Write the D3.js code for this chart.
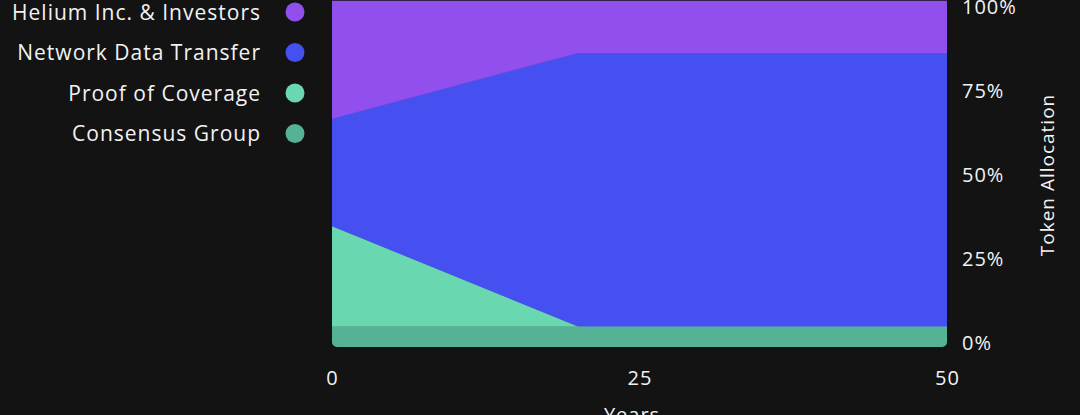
<!DOCTYPE html>
<html><head><meta charset="utf-8">
<script src="https://cdn.jsdelivr.net/npm/d3@7"></script>
<style>
html,body{margin:0;padding:0;background:#131313;}
svg{display:block;}
text{font-family:"Open Sans",sans-serif;fill:#f2f2f2;letter-spacing:1px;}
</style></head><body>
<svg id="c" width="1080" height="415"></svg>
<script>
const years = [0, 20, 50];
const seriesNames = ["Consensus Group", "Proof of Coverage", "Network Data Transfer", "Helium Inc. & Investors"];
const consensusGroup = [6, 6, 6];
const proofOfCoverage = [29, 0, 0];
const networkDataTransfer = [31, 79, 79];
const heliumInvestors = [34, 15, 15];
const colors = ["#55b294", "#69d8b1", "#4650f1", "#9150ee"];
const xTicks = [0, 25, 50];
const yTicks = [0, 25, 50, 75, 100];
const legendOrder = ["Helium Inc. & Investors", "Network Data Transfer", "Proof of Coverage", "Consensus Group"];

const rows = years.map((y, i) => ({
  year: y,
  "Consensus Group": consensusGroup[i],
  "Proof of Coverage": proofOfCoverage[i],
  "Network Data Transfer": networkDataTransfer[i],
  "Helium Inc. & Investors": heliumInvestors[i]
}));

const FONT = "'Open Sans', sans-serif";
const svg = d3.select("#c");
const L = 332, R = 947, T = 1, B = 347;
const x = d3.scaleLinear().domain([0, 50]).range([L, R]);
const y = d3.scaleLinear().domain([0, 100]).range([B, T]);

const defs = svg.append("defs");
defs.append("clipPath").attr("id", "clip").append("rect")
  .attr("x", L).attr("y", -10).attr("width", R - L).attr("height", B + 10)
  .attr("rx", 5).attr("ry", 5);

const stack = d3.stack().keys(seriesNames)(rows);
const area = d3.area().x(d => x(d.data.year)).y0(d => y(d[0])).y1(d => y(d[1]));

const g = svg.append("g").attr("clip-path", "url(#clip)");
g.selectAll("path").data(stack).join("path")
  .attr("d", area)
  .attr("fill", (d, i) => colors[i])
  .attr("stroke", (d, i) => colors[i]).attr("stroke-width", 0.5);

// x axis
const xAxis = d3.axisBottom(x).tickValues(xTicks).tickSize(0).tickPadding(0);
const gx = svg.append("g").attr("transform", "translate(0,370)").call(xAxis);
gx.select(".domain").remove();
gx.selectAll("text").attr("font-size", 20).attr("dy", "0.73em")
  .style("font-family", FONT).style("letter-spacing", "1px").attr("fill", "#f2f2f2");

// y axis (right)
const yLab = d3.scaleLinear().domain([0, 100]).range([342, 6]);
const yAxis = d3.axisRight(yLab).tickValues(yTicks).tickSize(0).tickPadding(0).tickFormat(d => d + "%");
const gy = svg.append("g").attr("transform", "translate(962,0)").call(yAxis);
gy.select(".domain").remove();
gy.selectAll("text").attr("font-size", 20).attr("dy", "0.36em")
  .style("font-family", FONT).style("letter-spacing", "1px").attr("fill", "#f2f2f2");

svg.append("text").attr("transform", "translate(1054,175) rotate(-90)")
  .attr("text-anchor", "middle").attr("font-size", 19).text("Token Allocation");

svg.append("text").attr("x", 632).attr("y", 422)
  .attr("text-anchor", "middle").attr("font-size", 20).text("Years");

// legend
const leg = svg.append("g");
legendOrder.forEach((name, i) => {
  const cy = 12 + i * 40.5;
  const col = colors[seriesNames.indexOf(name)];
  leg.append("text").attr("x", 261).attr("y", cy).attr("dy", "0.36em")
    .attr("text-anchor", "end").attr("font-size", 21).text(name);
  leg.append("circle").attr("cx", 295).attr("cy", cy).attr("r", 9.5).attr("fill", col);
});
</script>
</body></html>
